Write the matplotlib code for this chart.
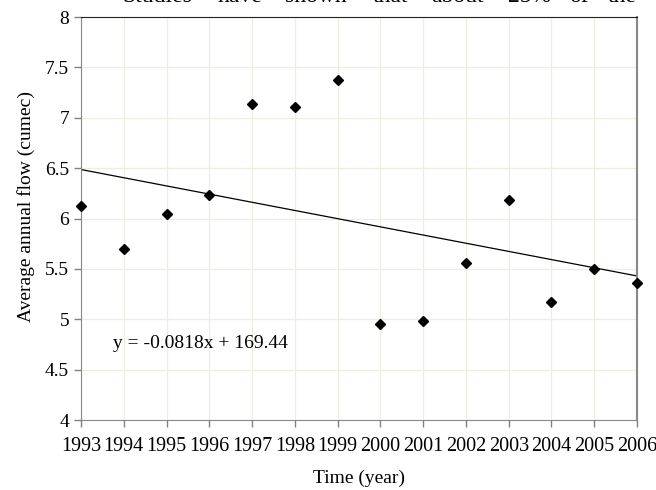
import numpy as np
import matplotlib

matplotlib.use('Agg')
import matplotlib.pyplot as plt

years = [1993, 1994, 1995, 1996, 1997, 1998, 1999, 2000, 2001, 2002, 2003, 2004, 2005, 2006]
flow = [6.12, 5.70, 6.04, 6.23, 7.14, 7.11, 7.37, 4.95, 4.98, 5.56, 6.18, 5.17, 5.50, 5.36]
y_ticks = [4, 4.5, 5, 5.5, 6, 6.5, 7, 7.5, 8]
eq_text = "y = -0.0818x + 169.44"
# line of page text above the chart, cut off by the crop
top_words = ["Studies", "have", "shown", "that", "about", "25%", "of", "the"]
top_word_x = [122, 218, 285, 373, 431, 508, 569, 608]

plt.rcParams['font.family'] = ['Liberation Serif', 'DejaVu Serif']

fig = plt.figure(figsize=(6.56, 4.9), dpi=100)
ax = fig.add_axes([81 / 656, 1 - 420 / 490, (637 - 81) / 656, (420 - 17) / 490])

# trend line from least squares
k, b = np.polyfit(years, flow, 1)
xs = np.array([years[0], years[-1]])
ax.plot(xs, k * xs + b, color='black', lw=0.9, zorder=2)
ax.plot(years, flow, 'D', color='black', markersize=5.5, zorder=3, clip_on=False)

ax.set_xlim(years[0], years[-1])
ax.set_ylim(4, 8)
ax.set_xticks(years)
ax.set_xticklabels([str(y) for y in years], fontsize=14.5)
ax.set_yticks(y_ticks)
ax.set_yticklabels([f"{v:g}" for v in y_ticks], fontsize=14)
ax.tick_params(axis='both', length=5, color='#808080', width=1)
ax.tick_params(axis='x', pad=7)
ax.grid(True, color='#efedde', lw=0.9)
ax.set_axisbelow(True)

ax.spines['top'].set_color('#222222')
ax.spines['right'].set_color('#888888')
ax.spines['right'].set_linewidth(1.5)
ax.spines['left'].set_color('#888888')
ax.spines['bottom'].set_color('#888888')

ax.set_xlabel("Time (year)", fontsize=14, labelpad=10)
ax.set_ylabel("Average annual flow (cumec)", fontsize=14)
ax.yaxis.set_label_coords(-0.082, 0.53)

ax.text(0.058, 0.19, eq_text, transform=ax.transAxes, fontsize=14, va='center')

for w, xp in zip(top_words, top_word_x):
    fig.text(xp / 656, 1 - 1.5 / 490, w, fontsize=17, va='baseline', ha='left')

fig.savefig('out.png', dpi=100)
